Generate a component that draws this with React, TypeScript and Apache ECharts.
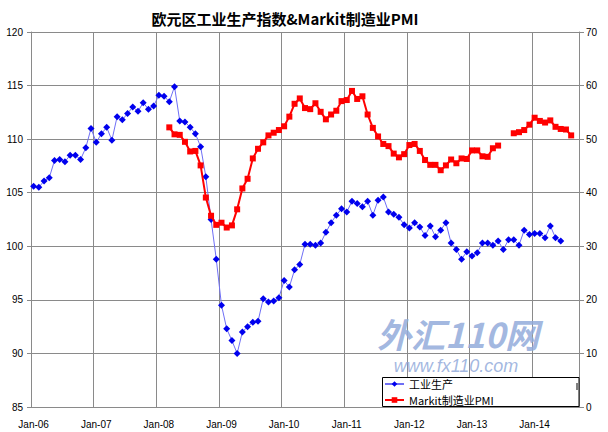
import React, { useEffect, useRef } from "react";
import * as echarts from "echarts";

const MONTHS = ["Jan", "Feb", "Mar", "Apr", "May", "Jun", "Jul", "Aug", "Sep", "Oct", "Nov", "Dec"];
const YEARS = ["06", "07", "08", "09", "10", "11", "12", "13", "14"];
const MONTHS_IN_LAST_YEAR = 9; // axis runs to Sep-14

const categories: string[] = [];
YEARS.forEach((y, yi) => {
  MONTHS.forEach((m, mi) => {
    if (yi < YEARS.length - 1 || mi < MONTHS_IN_LAST_YEAR) categories.push(`${m}-${y}`);
  });
});

// 工业生产 (left axis)
const ip2006 = [105.6, 105.5, 106.1, 106.4, 108.0, 108.1, 107.9, 108.5, 108.5, 108.1, 109.2, 111.0];
const ip2007 = [109.7, 110.5, 111.1, 109.9, 112.1, 111.8, 112.4, 113.0, 112.6, 113.4, 112.8, 113.1];
const ip2008 = [114.1, 114.0, 113.5, 114.9, 111.7, 111.6, 111.1, 110.5, 109.3, 106.5, 102.5, 98.8];
const ip2009 = [94.5, 92.3, 91.2, 90.0, 92.0, 92.5, 92.9, 93.0, 95.1, 94.8, 94.9, 95.2];
const ip2010 = [96.8, 96.2, 97.8, 98.3, 100.2, 100.2, 100.1, 100.3, 101.3, 102.2, 102.9, 103.5];
const ip2011 = [103.2, 104.2, 104.0, 103.7, 104.2, 102.9, 104.3, 104.6, 103.2, 103.0, 102.7, 102.0];
const ip2012 = [101.7, 102.2, 101.8, 101.0, 101.9, 100.9, 101.5, 102.2, 100.3, 99.7, 98.8, 99.5];
const ip2013 = [99.1, 99.4, 100.3, 100.3, 100.1, 100.5, 99.7, 100.6, 100.6, 100.1, 101.5, 101.1];
const ip2014 = [101.2, 101.2, 100.8, 101.9, 100.8, 100.5, null, null, null];

// Markit制造业PMI (right axis)
const pmi2006 = [null, null, null, null, null, null, null, null, null, null, null, null];
const pmi2007 = [null, null, null, null, null, null, null, null, null, null, null, null];
const pmi2008 = [null, null, 52.2, 50.9, 50.8, 49.5, 47.7, 47.8, 45.1, 39.1, 35.7, 34.0];
const pmi2009 = [34.4, 33.5, 33.9, 36.9, 40.8, 42.6, 46.4, 48.2, 49.4, 50.7, 51.2, 51.7];
const pmi2010 = [52.4, 54.2, 56.6, 57.6, 55.8, 55.6, 56.7, 55.1, 53.7, 54.6, 55.3, 57.1];
const pmi2011 = [57.3, 59.0, 57.5, 58.0, 54.6, 52.1, 50.5, 49.1, 48.7, 47.3, 46.6, 47.2];
const pmi2012 = [48.9, 49.1, 47.8, 46.1, 45.2, 45.2, 44.2, 45.1, 46.2, 45.5, 46.4, 46.3];
const pmi2013 = [47.9, 47.9, 46.8, 46.7, 48.3, 48.8, null, null, 51.1, 51.3, 51.7, 52.7];
const pmi2014 = [54.0, 53.4, 53.1, 53.5, 52.3, 51.9, 51.8, 50.7, null];

const industrial = [...ip2006, ...ip2007, ...ip2008, ...ip2009, ...ip2010, ...ip2011, ...ip2012, ...ip2013, ...ip2014];
const pmi = [...pmi2006, ...pmi2007, ...pmi2008, ...pmi2009, ...pmi2010, ...pmi2011, ...pmi2012, ...pmi2013, ...pmi2014];

const TITLE = "欧元区工业生产指数&Markit制造业PMI";
const SERIES_IP = "工业生产";
const SERIES_PMI = "Markit制造业PMI";

export default function App() {
  const ref = useRef<HTMLDivElement>(null);

  useEffect(() => {
    if (!ref.current) return;
    const chart = echarts.init(ref.current, undefined, { renderer: "svg" });
    const gridColor = "#8a8a8a";
    const labelFont = "Liberation Sans";
    chart.setOption({
      animation: false,
      backgroundColor: "#ffffff",
      grid: { left: 31, right: 29, top: 32, bottom: 25, containLabel: false },
      graphic: [
        {
          type: "text",
          x: 285,
          y: 18,
          z: 10,
          style: {
            text: TITLE,
            align: "center",
            verticalAlign: "middle",
            fontSize: 15,
            fontWeight: "bold",
            fontFamily: "Noto Sans CJK SC",
            fill: "#000000",
          },
        },
        {
          type: "text",
          x: 458,
          y: 333,
          z: 5,
          style: {
            text: "外汇110网",
            align: "center",
            verticalAlign: "middle",
            fontSize: 34,
            fontWeight: "bold",
            fontStyle: "italic",
            fontFamily: "Noto Sans CJK SC",
            fill: "#93abdb",
            opacity: 0.85,
          },
        },
        {
          type: "text",
          x: 456,
          y: 366,
          z: 5,
          style: {
            text: "www.fx110.com",
            align: "center",
            verticalAlign: "middle",
            fontSize: 18,
            fontStyle: "italic",
            fontFamily: "Liberation Sans",
            fill: "#93abdb",
            opacity: 0.85,
          },
        },
        {
          type: "rect",
          z: 50,
          shape: { x: 382.5, y: 377.5, width: 196.5, height: 29 },
          style: { fill: "#ffffff", stroke: "#000000", lineWidth: 1 },
        },
        {
          type: "line",
          z: 51,
          shape: { x1: 577, y1: 383, x2: 577, y2: 390 },
          style: { stroke: "#000000", lineWidth: 1 },
        },
      ],
      legend: {
        orient: "vertical",
        left: 384,
        top: 378,
        z: 60,
        itemWidth: 19,
        itemHeight: 7,
        itemGap: 4,
        padding: 0,
        data: [SERIES_IP, SERIES_PMI],
        textStyle: { fontSize: 11, color: "#000", fontFamily: "Noto Sans CJK SC", lineHeight: 12 },
      },
      xAxis: {
        type: "category",
        data: categories,
        boundaryGap: true,
        axisLine: { show: true, lineStyle: { color: gridColor, width: 1 } },
        axisTick: { show: false },
        axisLabel: {
          interval: (i: number) => i % 12 === 0,
          fontSize: 10,
          color: "#000",
          fontFamily: labelFont,
          margin: 12,
        },
        splitLine: {
          show: true,
          interval: (i: number) => i % 12 === 0,
          lineStyle: { color: gridColor, width: 1 },
        },
      },
      yAxis: [
        {
          type: "value",
          min: 85,
          max: 120,
          interval: 5,
          position: "left",
          axisLine: { show: true, lineStyle: { color: gridColor } },
          axisTick: { show: true, length: 4, lineStyle: { color: gridColor } },
          axisLabel: { fontSize: 10, color: "#000", fontFamily: labelFont, margin: 8 },
          splitLine: { show: true, lineStyle: { color: gridColor, width: 1 } },
        },
        {
          type: "value",
          min: 0,
          max: 70,
          interval: 10,
          position: "right",
          axisLine: { show: true, lineStyle: { color: gridColor } },
          axisTick: { show: true, length: 5, lineStyle: { color: gridColor } },
          axisLabel: { fontSize: 10, color: "#000", fontFamily: labelFont, margin: 7 },
          splitLine: { show: false },
        },
      ],
      series: [
        {
          name: SERIES_IP,
          type: "line",
          yAxisIndex: 0,
          data: industrial,
          symbol: "diamond",
          symbolSize: 7,
          showSymbol: true,
          showAllSymbol: true,
          z: 3,
          itemStyle: { color: "#0000ee" },
          lineStyle: { color: "#6f6ff5", width: 1 },
        },
        {
          name: SERIES_PMI,
          type: "line",
          yAxisIndex: 1,
          data: pmi,
          symbol: "rect",
          symbolSize: 6,
          showSymbol: true,
          showAllSymbol: true,
          z: 4,
          itemStyle: { color: "#ff0000" },
          lineStyle: { color: "#ff0000", width: 2 },
        },
      ],
    });
    return () => chart.dispose();
  }, []);

  return (
    <div
      ref={ref}
      style={{ position: "fixed", left: 0, top: 0, width: 608, height: 432, background: "#fff" }}
    />
  );
}
